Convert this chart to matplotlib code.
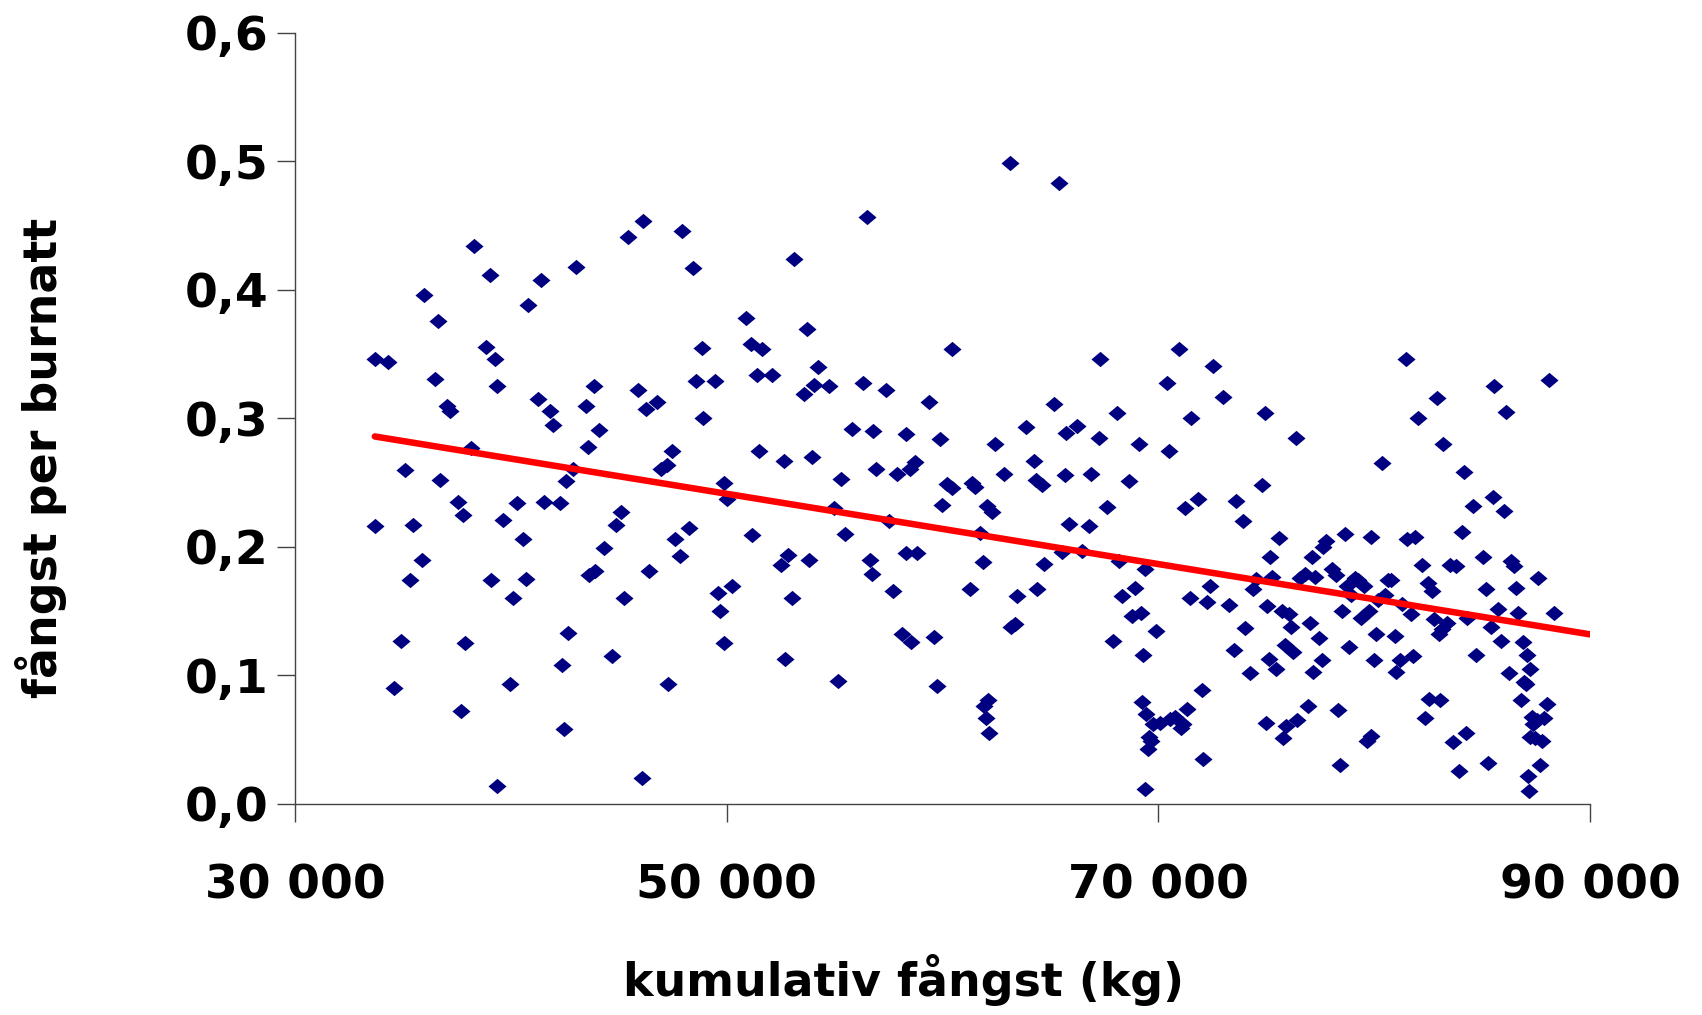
import numpy as np
import matplotlib.pyplot as plt

# kumulativ fångst (kg) and fångst per burnatt
catch_x = [
    33720, 34320, 33720, 34570, 34920, 35120, 35320, 35470, 35880, 35980,
    36480, 36630, 36730, 37030, 37190, 37540, 37790, 37690, 37890, 38140,
    38290, 38840, 39040, 39090, 39250, 39350, 39350, 39650, 39950, 40100,
    40300, 40550, 40700, 40800, 41260, 41410, 41560, 41810, 41960, 42260,
    42360, 42460, 42560, 42660, 42860, 43010, 43470, 43570, 43620, 43870,
    43920, 44070, 44320, 44670, 44870, 45120, 45230, 45430, 45880, 46130,
    46080, 46280, 46380, 46780, 46980, 47230, 47280, 47490, 47590, 47840,
    47940, 48240, 48440, 48590, 48840, 48890, 49450, 49600, 49700, 49900,
    49900, 50000, 50250, 50900, 51110, 51160, 51410, 51510, 51660, 52110,
    52510, 52660, 52710, 52860, 53010, 53110, 53570, 53720, 53820, 53970,
    54070, 54220, 54720, 54970, 55170, 55320, 55470, 55830, 56330, 56480,
    56630, 56730, 56780, 56930, 57390, 57540, 57690, 57890, 58140, 58290,
    58290, 58490, 58540, 58740, 58840, 59390, 59590, 59740, 59900, 60000,
    60200, 60450, 60450, 61260, 61360, 61510, 61760, 61860, 61910, 62010,
    62110, 62160, 62060, 62310, 62410, 62860, 63120, 63170, 63370, 63470,
    63870, 64220, 64320, 64370, 64620, 64720, 65180, 65380, 65530, 65680,
    65730, 65880, 66230, 66480, 66780, 66880, 67240, 67290, 67640, 67890,
    68090, 68190, 68340, 68640, 68790, 68940, 69090, 69190, 69240, 69290,
    69390, 69390, 69440, 69540, 69590, 69640, 69740, 69890, 70090, 70400,
    70500, 70550, 70750, 70950, 71050, 71150, 71250, 71350, 71510, 71460,
    71860, 72010, 72060, 72260, 72410, 72510, 73010, 73260, 73520, 73620,
    73920, 74020, 74270, 74370, 74520, 74820, 74920, 74970, 75020, 75120,
    75170, 75270, 75470, 75570, 75720, 75770, 75870, 75920, 76070, 76170,
    76220, 76370, 76420, 76570, 76780, 76930, 77030, 77130, 77180, 77280,
    77430, 77580, 77630, 77780, 78040, 78240, 78340, 78440, 78490, 78640,
    78740, 78840, 78940, 79090, 79240, 79400, 79550, 79650, 79750, 79850,
    79850, 80000, 80100, 80200, 80350, 80500, 80650, 80800, 80950, 81000,
    81200, 81310, 81460, 81510, 81710, 81810, 81910, 82010, 82210, 82360,
    82510, 82560, 82660, 82760, 82910, 83010, 83060, 83160, 83210, 83360,
    83520, 83670, 83770, 83920, 84070, 84170, 84270, 84320, 84570, 84720,
    85020, 85170, 85270, 85420, 85520, 85570, 85720, 85870, 86030, 86130,
    86230, 86330, 86480, 86580, 86680, 86780, 86880, 86930, 87030, 87080,
    87130, 87180, 87230, 87230, 87330, 87380, 87430, 87530, 87580, 87680,
    87780, 87880, 87990, 88090, 88340,
]
catch_y = [
    0.346, 0.344, 0.216, 0.090, 0.127, 0.260, 0.174, 0.217, 0.190, 0.396,
    0.331, 0.376, 0.252, 0.310, 0.306, 0.235, 0.225, 0.072, 0.125, 0.277,
    0.434, 0.356, 0.412, 0.174, 0.346, 0.325, 0.014, 0.221, 0.093, 0.160,
    0.234, 0.206, 0.175, 0.388, 0.315, 0.408, 0.235, 0.306, 0.295, 0.234,
    0.108, 0.058, 0.251, 0.133, 0.261, 0.418, 0.310, 0.278, 0.178, 0.325,
    0.181, 0.291, 0.199, 0.115, 0.217, 0.227, 0.160, 0.441, 0.322, 0.454,
    0.020, 0.307, 0.181, 0.313, 0.261, 0.264, 0.093, 0.275, 0.206, 0.193,
    0.446, 0.215, 0.417, 0.329, 0.355, 0.300, 0.329, 0.164, 0.150, 0.125,
    0.250, 0.237, 0.170, 0.378, 0.358, 0.209, 0.334, 0.275, 0.354, 0.334,
    0.186, 0.267, 0.113, 0.194, 0.160, 0.424, 0.319, 0.370, 0.190, 0.270,
    0.326, 0.340, 0.325, 0.230, 0.096, 0.253, 0.210, 0.292, 0.328, 0.457,
    0.190, 0.179, 0.290, 0.261, 0.322, 0.220, 0.166, 0.257, 0.132, 0.288,
    0.195, 0.261, 0.126, 0.266, 0.195, 0.313, 0.130, 0.092, 0.284, 0.233,
    0.249, 0.354, 0.246, 0.167, 0.250, 0.247, 0.211, 0.188, 0.076, 0.067,
    0.081, 0.055, 0.232, 0.227, 0.280, 0.257, 0.499, 0.138, 0.140, 0.162,
    0.293, 0.267, 0.252, 0.167, 0.248, 0.187, 0.311, 0.483, 0.196, 0.256,
    0.289, 0.218, 0.294, 0.197, 0.216, 0.257, 0.285, 0.346, 0.231, 0.127,
    0.304, 0.189, 0.162, 0.251, 0.146, 0.168, 0.280, 0.149, 0.079, 0.116,
    0.183, 0.012, 0.070, 0.043, 0.052, 0.049, 0.062, 0.135, 0.063, 0.328,
    0.275, 0.066, 0.068, 0.354, 0.059, 0.062, 0.230, 0.074, 0.300, 0.160,
    0.237, 0.089, 0.035, 0.157, 0.170, 0.341, 0.317, 0.155, 0.120, 0.236,
    0.220, 0.137, 0.102, 0.167, 0.175, 0.248, 0.304, 0.063, 0.154, 0.113,
    0.192, 0.177, 0.105, 0.207, 0.150, 0.051, 0.124, 0.061, 0.148, 0.138,
    0.118, 0.285, 0.065, 0.176, 0.179, 0.076, 0.141, 0.192, 0.103, 0.177,
    0.129, 0.112, 0.200, 0.205, 0.183, 0.178, 0.073, 0.030, 0.150, 0.210,
    0.170, 0.122, 0.163, 0.176, 0.174, 0.145, 0.170, 0.049, 0.150, 0.053,
    0.208, 0.112, 0.132, 0.159, 0.265, 0.163, 0.174, 0.174, 0.131, 0.103,
    0.112, 0.156, 0.346, 0.206, 0.148, 0.115, 0.208, 0.300, 0.186, 0.067,
    0.172, 0.082, 0.166, 0.144, 0.316, 0.132, 0.081, 0.136, 0.280, 0.141,
    0.186, 0.048, 0.185, 0.026, 0.212, 0.258, 0.055, 0.145, 0.232, 0.116,
    0.192, 0.167, 0.032, 0.138, 0.239, 0.325, 0.152, 0.127, 0.228, 0.305,
    0.102, 0.189, 0.185, 0.168, 0.149, 0.081, 0.126, 0.095, 0.093, 0.116,
    0.022, 0.010, 0.105, 0.052, 0.068, 0.062, 0.051, 0.065, 0.176, 0.030,
    0.049, 0.067, 0.078, 0.330, 0.149,
]

# linear trend line
trend_x = [33700, 90000]
trend_y = [0.286, 0.132]

x_ticks = [30000, 50000, 70000, 90000]
x_labels = ['30 000', '50 000', '70 000', '90 000']
y_ticks = [0.0, 0.1, 0.2, 0.3, 0.4, 0.5, 0.6]
y_labels = ['0,0', '0,1', '0,2', '0,3', '0,4', '0,5', '0,6']

plt.rcParams['font.family'] = ['DejaVu Sans']
plt.rcParams['font.weight'] = 'bold'

fig = plt.figure(figsize=(17.02, 10.15), dpi=100)
ax = fig.add_axes([0.1733, 0.2079, 0.9342 - 0.1733, 0.9675 - 0.2079])

diamond = [(-1, 0), (0, 0.85), (1, 0), (0, -0.85), (-1, 0)]
ax.plot(catch_x, catch_y, linestyle='none', marker=diamond, markersize=13,
        color='#000080', markeredgewidth=0)
ax.plot(trend_x, trend_y, color='#ff0000', linewidth=4.7,
        solid_capstyle='round')

ax.set_xlim(30000, 90000)
ax.set_ylim(0, 0.6)
ax.set_xticks(x_ticks)
ax.set_xticklabels(x_labels)
ax.set_yticks(y_ticks)
ax.set_yticklabels(y_labels)

for s in ['top', 'right']:
    ax.spines[s].set_visible(False)
for s in ['left', 'bottom']:
    ax.spines[s].set_color('#444444')
    ax.spines[s].set_linewidth(1.0)

ax.tick_params(axis='both', direction='out', length=13, width=1.0,
               color='#444444', labelsize=34)
ax.tick_params(axis='x', pad=30)
ax.tick_params(axis='y', pad=6)
for lab in ax.get_xticklabels() + ax.get_yticklabels():
    lab.set_fontweight('bold')

ax.set_xlabel('kumulativ fångst (kg)', fontsize=33, fontweight='bold')
ax.set_ylabel('fångst per burnatt', fontsize=33, fontweight='bold')
ax.xaxis.set_label_coords(0.47, -0.195)
ax.yaxis.set_label_coords(-0.176, 0.449)

fig.savefig('out.png', dpi=100)
